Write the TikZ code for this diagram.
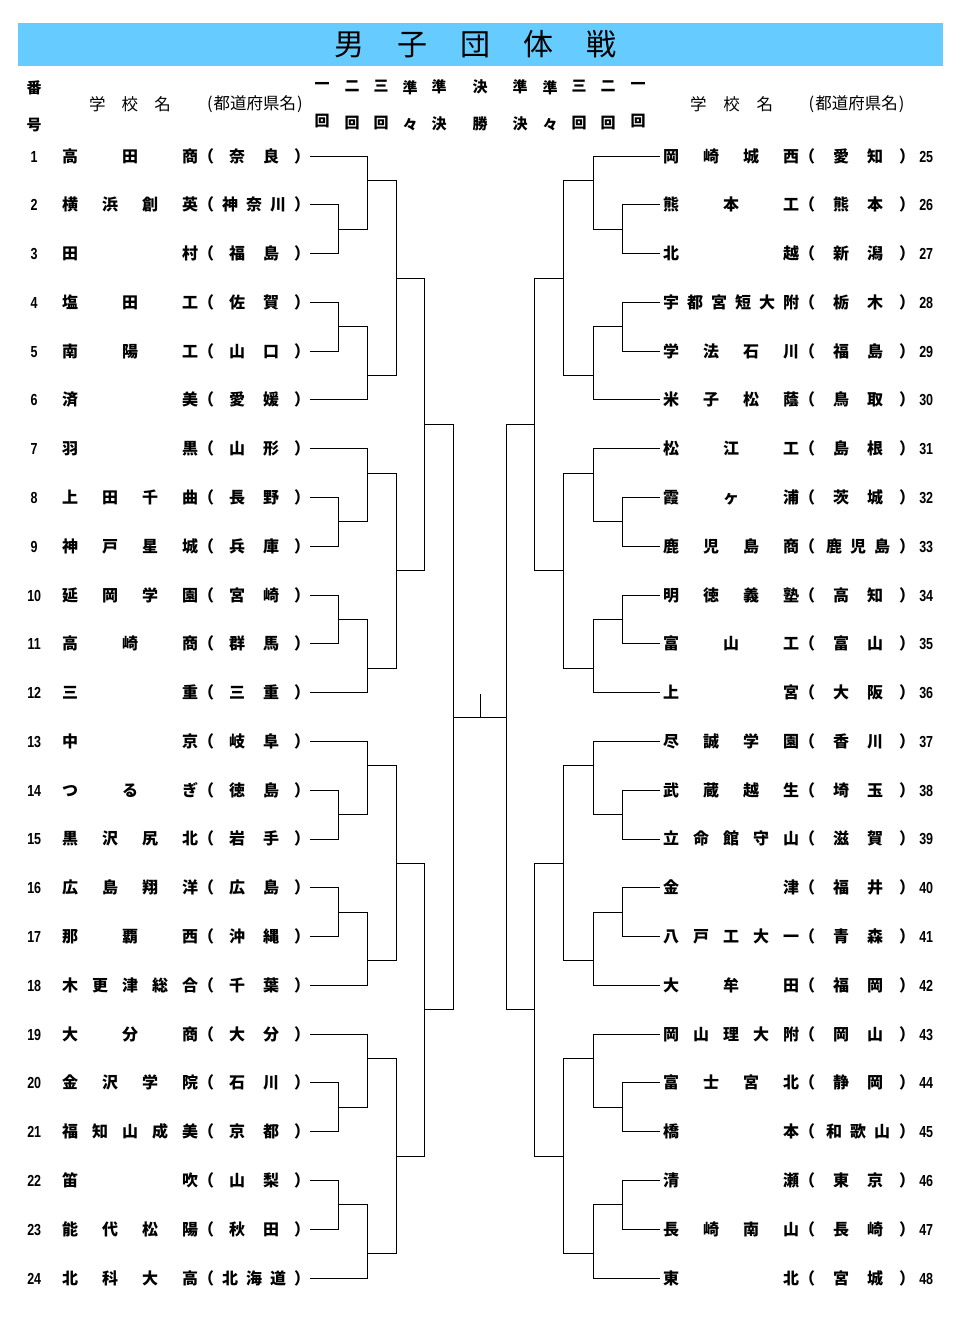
\documentclass[tikz,border=0pt]{standalone}
\usepackage{fontspec}
\setmainfont{Noto Sans CJK JP}
\newfontfamily\numfont[FakeStretch=0.78]{Liberation Sans}
\usetikzlibrary{positioning}

\definecolor{titleblue}{RGB}{102,204,255}

\def\spreadtxt#1#2\relax{#1\ifx\relax#2\relax\else\hfill\spreadtxt#2\relax\fi}
\newcommand\prefbox[1]{\sbox0{#1}\ifdim\wd0>40pt\makebox[64pt][s]{\spreadtxt#1\relax}\else\makebox[64pt]{\makebox[50pt][s]{\spreadtxt#1\relax}}\fi}
\newcommand\lrow[3]{\makebox[26pt]{\numfont\bfseries\fontsize{16}{16}\selectfont #1}\hspace{15pt}\makebox[136pt][s]{\spreadtxt#2\relax}\makebox[16pt]{（}\hspace{8pt}\prefbox{#3}\hspace{8pt}\makebox[16pt]{）}}
\newcommand\rrow[3]{\kern3pt\makebox[136pt][s]{\spreadtxt#2\relax}\makebox[16pt]{（}\hspace{11pt}\prefbox{#3}\hspace{9pt}\makebox[16pt]{）}\makebox[22pt]{\numfont\bfseries\fontsize{16}{16}\selectfont #1}}

\tikzset{
  titlebar/.style={fill=titleblue,inner sep=0pt,minimum width=925pt,minimum height=43pt},
  titletext/.style={inner sep=0pt,font=\fontsize{30}{30}\selectfont},
  headtext/.style={inner sep=0pt,font=\fontsize{16.5}{16.5}\selectfont},
  roundhead/.style={align=center,inner sep=0pt,font=\bfseries\fontsize{15}{37}\selectfont},
  lteam/.style={anchor=west,inner sep=0pt,text height=14pt,text depth=2pt,font=\bfseries\fontsize{16}{16}\selectfont},
  rteam/.style={lteam},
  bracket/.style={draw=black,line width=0.9pt,to path={-| (\tikztotarget)}}
}

\begin{document}
\begin{tikzpicture}[x=1pt,y=-1pt]
\useasboundingbox (0,0) rectangle (960,1325);
\node[titlebar] (bar) at (480.5,44.5) {};
\node[titletext] (title) at (475,44.5) {\makebox[282pt][s]{\spreadtxt 男子団体戦\relax}};

\node[roundhead] (no) at (34,106) {番\\号};
\node[headtext] (lname) at (130,104) {\makebox[82pt][s]{\spreadtxt 学校名\relax}};
\node[headtext] (lpref) at (255,104) {(\kern1pt 都道府県名\kern1pt)};
\node[headtext] (rname) at (731.5,104) {\makebox[83pt][s]{\spreadtxt 学校名\relax}};
\node[headtext] (rpref) at (856.5,104) {(\kern1pt 都道府県名\kern1pt)};

\node[roundhead] (r1) at (322,105.5) {一\\回};
\node[roundhead] (r2) at (352,105.5) {二\\回};
\node[roundhead] (r3) at (381,105.5) {三\\回};
\node[roundhead] (r4) at (410,105.5) {準\\々};
\node[roundhead] (r5) at (439,105.5) {準\\決};
\node[roundhead] (r6) at (480,105.5) {決\\勝};
\node[roundhead] (r7) at (520,105.5) {準\\決};
\node[roundhead] (r8) at (550,105.5) {準\\々};
\node[roundhead] (r9) at (579,105.5) {三\\回};
\node[roundhead] (r10) at (608,105.5) {二\\回};
\node[roundhead] (r11) at (638,105.5) {一\\回};

\node[lteam] (t1) at (21,156) {\lrow{1}{高田商}{奈良}};
\node[lteam] (t2) at (21,204.78) {\lrow{2}{横浜創英}{神奈川}};
\node[lteam] (t3) at (21,253.57) {\lrow{3}{田村}{福島}};
\node[lteam] (t4) at (21,302.35) {\lrow{4}{塩田工}{佐賀}};
\node[lteam] (t5) at (21,351.13) {\lrow{5}{南陽工}{山口}};
\node[lteam] (t6) at (21,399.91) {\lrow{6}{済美}{愛媛}};
\node[lteam] (t7) at (21,448.70) {\lrow{7}{羽黒}{山形}};
\node[lteam] (t8) at (21,497.48) {\lrow{8}{上田千曲}{長野}};
\node[lteam] (t9) at (21,546.26) {\lrow{9}{神戸星城}{兵庫}};
\node[lteam] (t10) at (21,595.04) {\lrow{10}{延岡学園}{宮崎}};
\node[lteam] (t11) at (21,643.83) {\lrow{11}{高崎商}{群馬}};
\node[lteam] (t12) at (21,692.61) {\lrow{12}{三重}{三重}};
\node[lteam] (t13) at (21,741.39) {\lrow{13}{中京}{岐阜}};
\node[lteam] (t14) at (21,790.17) {\lrow{14}{つるぎ}{徳島}};
\node[lteam] (t15) at (21,838.96) {\lrow{15}{黒沢尻北}{岩手}};
\node[lteam] (t16) at (21,887.74) {\lrow{16}{広島翔洋}{広島}};
\node[lteam] (t17) at (21,936.52) {\lrow{17}{那覇西}{沖縄}};
\node[lteam] (t18) at (21,985.30) {\lrow{18}{木更津総合}{千葉}};
\node[lteam] (t19) at (21,1034.09) {\lrow{19}{大分商}{大分}};
\node[lteam] (t20) at (21,1082.87) {\lrow{20}{金沢学院}{石川}};
\node[lteam] (t21) at (21,1131.65) {\lrow{21}{福知山成美}{京都}};
\node[lteam] (t22) at (21,1180.43) {\lrow{22}{笛吹}{山梨}};
\node[lteam] (t23) at (21,1229.22) {\lrow{23}{能代松陽}{秋田}};
\node[lteam] (t24) at (21,1278) {\lrow{24}{北科大高}{北海道}};

\node[rteam] (t25) at (660,156) {\rrow{25}{岡崎城西}{愛知}};
\node[rteam] (t26) at (660,204.78) {\rrow{26}{熊本工}{熊本}};
\node[rteam] (t27) at (660,253.57) {\rrow{27}{北越}{新潟}};
\node[rteam] (t28) at (660,302.35) {\rrow{28}{宇都宮短大附}{栃木}};
\node[rteam] (t29) at (660,351.13) {\rrow{29}{学法石川}{福島}};
\node[rteam] (t30) at (660,399.91) {\rrow{30}{米子松蔭}{鳥取}};
\node[rteam] (t31) at (660,448.70) {\rrow{31}{松江工}{島根}};
\node[rteam] (t32) at (660,497.48) {\rrow{32}{霞ヶ浦}{茨城}};
\node[rteam] (t33) at (660,546.26) {\rrow{33}{鹿児島商}{鹿児島}};
\node[rteam] (t34) at (660,595.04) {\rrow{34}{明徳義塾}{高知}};
\node[rteam] (t35) at (660,643.83) {\rrow{35}{富山工}{富山}};
\node[rteam] (t36) at (660,692.61) {\rrow{36}{上宮}{大阪}};
\node[rteam] (t37) at (660,741.39) {\rrow{37}{尽誠学園}{香川}};
\node[rteam] (t38) at (660,790.17) {\rrow{38}{武蔵越生}{埼玉}};
\node[rteam] (t39) at (660,838.96) {\rrow{39}{立命館守山}{滋賀}};
\node[rteam] (t40) at (660,887.74) {\rrow{40}{金津}{福井}};
\node[rteam] (t41) at (660,936.52) {\rrow{41}{八戸工大一}{青森}};
\node[rteam] (t42) at (660,985.30) {\rrow{42}{大牟田}{福岡}};
\node[rteam] (t43) at (660,1034.09) {\rrow{43}{岡山理大附}{岡山}};
\node[rteam] (t44) at (660,1082.87) {\rrow{44}{富士宮北}{静岡}};
\node[rteam] (t45) at (660,1131.65) {\rrow{45}{橋本}{和歌山}};
\node[rteam] (t46) at (660,1180.43) {\rrow{46}{清瀬}{東京}};
\node[rteam] (t47) at (660,1229.22) {\rrow{47}{長崎南山}{長崎}};
\node[rteam] (t48) at (660,1278) {\rrow{48}{東北}{宮城}};

\coordinate (la0) at (338,229.17);
\coordinate (la1) at (338,326.74);
\coordinate (la2) at (338,521.87);
\coordinate (la3) at (338,619.43);
\coordinate (la4) at (338,814.57);
\coordinate (la5) at (338,912.13);
\coordinate (la6) at (338,1107.26);
\coordinate (la7) at (338,1204.83);
\coordinate (lb0) at (367,180.39);
\coordinate (lb1) at (367,375.52);
\coordinate (lb2) at (367,473.09);
\coordinate (lb3) at (367,668.22);
\coordinate (lb4) at (367,765.78);
\coordinate (lb5) at (367,960.91);
\coordinate (lb6) at (367,1058.48);
\coordinate (lb7) at (367,1253.61);
\coordinate (lc0) at (396,277.96);
\coordinate (lc1) at (396,570.65);
\coordinate (lc2) at (396,863.35);
\coordinate (lc3) at (396,1156.04);
\coordinate (ld0) at (424.5,424.30);
\coordinate (ld1) at (424.5,1009.70);
\coordinate (le) at (453.5,717);

\coordinate (ra0) at (622.5,229.17);
\coordinate (ra1) at (622.5,326.74);
\coordinate (ra2) at (622.5,521.87);
\coordinate (ra3) at (622.5,619.43);
\coordinate (ra4) at (622.5,814.57);
\coordinate (ra5) at (622.5,912.13);
\coordinate (ra6) at (622.5,1107.26);
\coordinate (ra7) at (622.5,1204.83);
\coordinate (rb0) at (593,180.39);
\coordinate (rb1) at (593,375.52);
\coordinate (rb2) at (593,473.09);
\coordinate (rb3) at (593,668.22);
\coordinate (rb4) at (593,765.78);
\coordinate (rb5) at (593,960.91);
\coordinate (rb6) at (593,1058.48);
\coordinate (rb7) at (593,1253.61);
\coordinate (rc0) at (563.5,277.96);
\coordinate (rc1) at (563.5,570.65);
\coordinate (rc2) at (563.5,863.35);
\coordinate (rc3) at (563.5,1156.04);
\coordinate (rd0) at (534.5,424.30);
\coordinate (rd1) at (534.5,1009.70);
\coordinate (re) at (506,717);

\coordinate (final) at (480,717);
\coordinate (finaltop) at (480,694);

\path [bracket] (t1) edge (lb0) (t2) edge (la0) (t3) edge (la0) (la0) edge (lb0);
\path [bracket] (t4) edge (la1) (t5) edge (la1) (t6) edge (lb1) (la1) edge (lb1);
\path [bracket] (t7) edge (lb2) (t8) edge (la2) (t9) edge (la2) (la2) edge (lb2);
\path [bracket] (t10) edge (la3) (t11) edge (la3) (t12) edge (lb3) (la3) edge (lb3);
\path [bracket] (t13) edge (lb4) (t14) edge (la4) (t15) edge (la4) (la4) edge (lb4);
\path [bracket] (t16) edge (la5) (t17) edge (la5) (t18) edge (lb5) (la5) edge (lb5);
\path [bracket] (t19) edge (lb6) (t20) edge (la6) (t21) edge (la6) (la6) edge (lb6);
\path [bracket] (t22) edge (la7) (t23) edge (la7) (t24) edge (lb7) (la7) edge (lb7);
\path [bracket] (lb0) edge (lc0) (lb1) edge (lc0) (lb2) edge (lc1) (lb3) edge (lc1);
\path [bracket] (lb4) edge (lc2) (lb5) edge (lc2) (lb6) edge (lc3) (lb7) edge (lc3);
\path [bracket] (lc0) edge (ld0) (lc1) edge (ld0) (lc2) edge (ld1) (lc3) edge (ld1);
\path [bracket] (ld0) edge (le) (ld1) edge (le) (le) edge (final);

\path [bracket] (t25) edge (rb0) (t26) edge (ra0) (t27) edge (ra0) (ra0) edge (rb0);
\path [bracket] (t28) edge (ra1) (t29) edge (ra1) (t30) edge (rb1) (ra1) edge (rb1);
\path [bracket] (t31) edge (rb2) (t32) edge (ra2) (t33) edge (ra2) (ra2) edge (rb2);
\path [bracket] (t34) edge (ra3) (t35) edge (ra3) (t36) edge (rb3) (ra3) edge (rb3);
\path [bracket] (t37) edge (rb4) (t38) edge (ra4) (t39) edge (ra4) (ra4) edge (rb4);
\path [bracket] (t40) edge (ra5) (t41) edge (ra5) (t42) edge (rb5) (ra5) edge (rb5);
\path [bracket] (t43) edge (rb6) (t44) edge (ra6) (t45) edge (ra6) (ra6) edge (rb6);
\path [bracket] (t46) edge (ra7) (t47) edge (ra7) (t48) edge (rb7) (ra7) edge (rb7);
\path [bracket] (rb0) edge (rc0) (rb1) edge (rc0) (rb2) edge (rc1) (rb3) edge (rc1);
\path [bracket] (rb4) edge (rc2) (rb5) edge (rc2) (rb6) edge (rc3) (rb7) edge (rc3);
\path [bracket] (rc0) edge (rd0) (rc1) edge (rd0) (rc2) edge (rd1) (rc3) edge (rd1);
\path [bracket] (rd0) edge (re) (rd1) edge (re) (re) edge (final);

\path [bracket] (final) edge (finaltop);
\end{tikzpicture}
\end{document}
